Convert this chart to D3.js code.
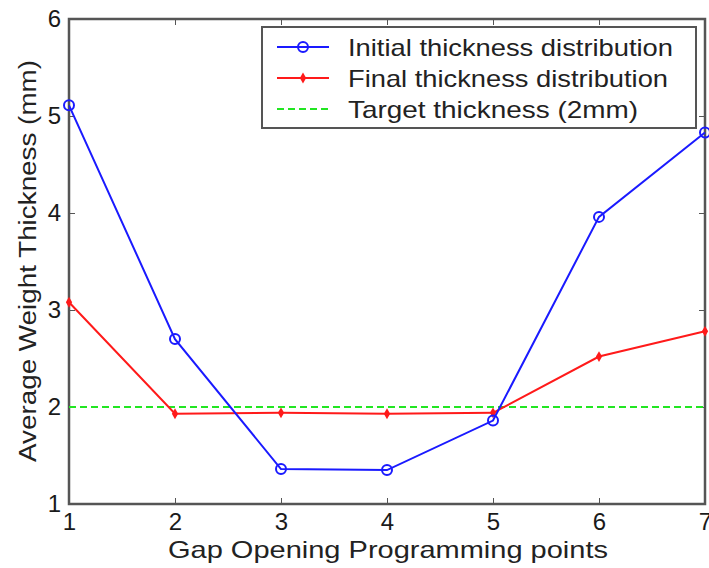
<!DOCTYPE html>
<html>
<head>
<meta charset="utf-8">
<script src="https://cdn.jsdelivr.net/npm/d3@7"></script>
<style>
  body { margin: 0; background: #fff; }
  text { font-family: "Liberation Sans", Arial, sans-serif; }
</style>
</head>
<body>
<div id="chart"></div>
<script>
// data
const points = [1, 2, 3, 4, 5, 6, 7];
const initialThickness = [5.11, 2.70, 1.36, 1.35, 1.86, 3.96, 4.83];
const finalThickness = [3.08, 1.93, 1.94, 1.93, 1.94, 2.52, 2.78];
const targetThickness = 2;
const yTicks = [1, 2, 3, 4, 5, 6];
const legendLabels = ["Initial thickness distribution", "Final thickness distribution", "Target thickness (2mm)"];

const W = 709, H = 568;
const margin = { top: 19, right: 4, bottom: 64, left: 69 };
const width = W - margin.left - margin.right;
const height = H - margin.top - margin.bottom;

const svg = d3.select("#chart").append("svg")
    .attr("width", W)
    .attr("height", H);
const g = svg.append("g")
    .attr("transform", `translate(${margin.left}, ${margin.top})`);

const x = d3.scaleLinear().domain([1, 7]).range([0, width]);
const y = d3.scaleLinear().domain([1, 6]).range([height, 0]);

const axisColor = "#555";

// axes with inward ticks (box style)
function styleAxis(sel) {
    sel.select(".domain").remove();
    sel.selectAll("line").attr("stroke", axisColor).attr("stroke-width", 1);
    sel.selectAll("text").style("font-size", "24px").attr("fill", "#1a1a1a");
}
g.append("g")
    .attr("transform", `translate(0, ${height})`)
    .call(d3.axisBottom(x).tickValues(points).tickFormat(d3.format("d")).tickSizeInner(-6).tickPadding(9))
    .call(styleAxis);
g.append("g")
    .call(d3.axisTop(x).tickValues(points).tickSizeInner(-6).tickFormat(""))
    .call(styleAxis);
g.append("g")
    .call(d3.axisLeft(y).tickValues(yTicks).tickFormat(d3.format("d")).tickSizeInner(-6).tickPadding(8))
    .call(styleAxis);
g.append("g")
    .attr("transform", `translate(${width}, 0)`)
    .call(d3.axisRight(y).tickValues(yTicks).tickSizeInner(-6).tickFormat(""))
    .call(styleAxis);

g.append("rect")
    .attr("width", width)
    .attr("height", height)
    .attr("fill", "none")
    .attr("stroke", axisColor)
    .attr("stroke-width", 2.5);

// target line
g.append("line")
    .attr("x1", x(1)).attr("x2", x(7))
    .attr("y1", y(targetThickness)).attr("y2", y(targetThickness))
    .attr("stroke", "#22e622")
    .attr("stroke-width", 2)
    .attr("stroke-dasharray", "7,4");

const line = d3.line()
    .x((d, i) => x(points[i]))
    .y(d => y(d));

// final thickness
g.append("path")
    .datum(finalThickness)
    .attr("fill", "none")
    .attr("stroke", "#ff1a1a")
    .attr("stroke-width", 2)
    .attr("d", line);
g.selectAll("path.fin")
    .data(finalThickness)
    .enter()
    .append("path")
    .attr("class", "fin")
    .attr("transform", (d, i) => `translate(${x(points[i])}, ${y(d)})`)
    .attr("d", d3.symbol(d3.symbolDiamond, 34))
    .attr("fill", "#ff1a1a");

// initial thickness
g.append("path")
    .datum(initialThickness)
    .attr("fill", "none")
    .attr("stroke", "#1a1aff")
    .attr("stroke-width", 2)
    .attr("d", line);
g.selectAll("circle.init")
    .data(initialThickness)
    .enter()
    .append("circle")
    .attr("class", "init")
    .attr("cx", (d, i) => x(points[i]))
    .attr("cy", d => y(d))
    .attr("r", 5)
    .attr("fill", "none")
    .attr("stroke", "#1a1aff")
    .attr("stroke-width", 2);

// legend
const legend = svg.append("g").attr("transform", "translate(262, 27)");
legend.append("rect")
    .attr("width", 434)
    .attr("height", 101)
    .attr("fill", "#fff")
    .attr("stroke", axisColor)
    .attr("stroke-width", 2);

const rowY = [20, 51, 82];
const textLen = [325, 320, 290];
const colors = ["#1a1aff", "#ff1a1a", "#22e622"];
legendLabels.forEach((label, i) => {
    const row = legend.append("g").attr("transform", `translate(0, ${rowY[i]})`);
    row.append("line")
        .attr("x1", 15).attr("x2", 67)
        .attr("stroke", colors[i])
        .attr("stroke-width", 2)
        .attr("stroke-dasharray", i === 2 ? "7,4" : null);
    if (i === 0) {
        row.append("circle").attr("cx", 41).attr("r", 5)
            .attr("fill", "none").attr("stroke", colors[i]).attr("stroke-width", 2);
    } else if (i === 1) {
        row.append("path").attr("transform", "translate(41, 0)")
            .attr("d", d3.symbol(d3.symbolDiamond, 34)).attr("fill", colors[i]);
    }
    row.append("text")
        .attr("x", 86)
        .attr("dy", "0.36em")
        .style("font-size", "24px")
        .attr("textLength", textLen[i])
        .attr("lengthAdjust", "spacingAndGlyphs")
        .attr("fill", "#222")
        .text(label);
});

// axis labels
svg.append("text")
    .attr("x", 388)
    .attr("y", 558)
    .attr("text-anchor", "middle")
    .style("font-size", "24px")
    .attr("textLength", 440)
    .attr("lengthAdjust", "spacingAndGlyphs")
    .attr("fill", "#222")
    .text("Gap Opening Programming points");

svg.append("text")
    .attr("transform", `translate(36, 261) rotate(-90)`)
    .attr("text-anchor", "middle")
    .style("font-size", "23px")
    .attr("textLength", 402)
    .attr("lengthAdjust", "spacingAndGlyphs")
    .attr("fill", "#222")
    .text("Average Weight Thickness (mm)");
</script>
</body>
</html>
